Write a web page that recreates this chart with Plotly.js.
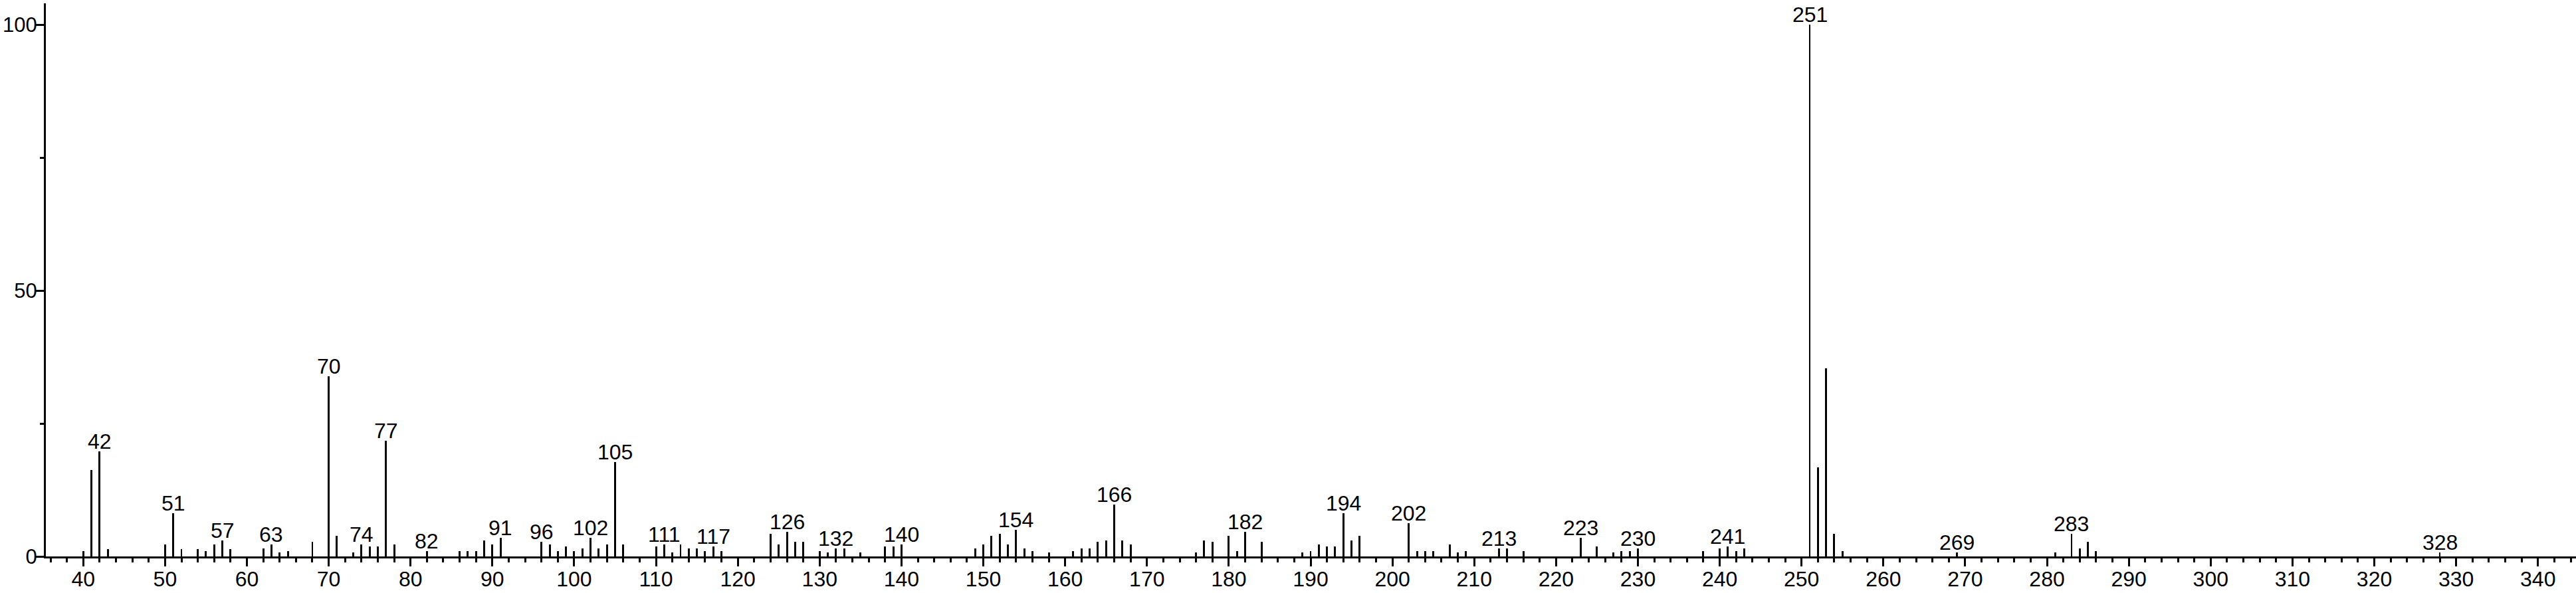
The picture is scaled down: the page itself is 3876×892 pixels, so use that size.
<!DOCTYPE html>
<html>
<head>
<meta charset="utf-8">
<script src="https://cdn.plot.ly/plotly-3.0.1.min.js"></script>
<style>
  html, body { margin: 0; padding: 0; background: #ffffff; }
  #chart { width: 3876px; height: 892px; }
</style>
</head>
<body>
<div id="chart"></div>
<script>
// m/z values of the peaks
const mz = [40,41,42,43,50,51,52,54,55,56,57,58,62,63,64,65,68,70,71,73,74,75,76,77,78,82,86,87,88,89,90,91,96,97,98,99,100,101,102,103,104,105,106,110,111,112,113,114,115,116,117,118,124,125,126,127,128,130,131,132,133,135,138,139,140,149,150,151,152,153,154,155,156,158,161,162,163,164,165,166,167,168,176,177,178,180,181,182,184,189,190,191,192,193,194,195,196,202,203,204,205,207,208,209,213,214,216,223,225,227,228,229,230,238,240,241,242,243,251,252,253,254,255,269,281,283,284,285,286,328];
// relative intensities (%)
const intensity = [1.0,16.3,19.8,1.4,2.2,8.1,1.4,1.4,1.0,2.3,3.0,1.4,1.5,2.3,0.8,1.0,2.7,33.9,3.9,0.7,2.3,1.9,1.9,21.8,2.3,1.0,1.0,1.0,1.0,3.0,2.3,3.5,2.7,2.3,1.0,1.9,1.0,1.5,3.5,1.5,2.3,17.8,2.3,1.9,2.3,0.7,2.3,1.5,1.5,1.0,1.9,1.0,4.3,2.3,4.6,2.7,2.7,1.0,0.7,1.5,1.5,0.7,1.9,1.9,2.3,1.5,2.3,3.9,4.2,2.3,5.0,1.5,1.0,0.7,1.0,1.5,1.5,2.7,3.0,9.7,3.0,2.3,0.7,3.0,2.7,3.9,1.0,4.6,2.7,0.7,1.0,2.3,1.9,1.9,8.1,3.0,3.9,6.25,1.0,1.0,1.0,2.3,0.7,1.0,1.5,1.5,1.0,3.5,1.9,0.7,1.0,1.0,1.5,1.0,1.5,1.9,1.0,1.5,100,16.7,35.4,4.2,1.0,0.7,0.7,4.2,1.5,2.7,1.0,0.7];
// peaks that carry an m/z label
const labelledPeaks = [42,51,57,63,70,74,77,82,91,96,102,105,111,117,126,132,140,154,166,182,194,202,213,223,230,241,251,269,283,328];
// axis tick values
const yTickVals = [0, 50, 100];
const xTickVals = [40,50,60,70,80,90,100,110,120,130,140,150,160,170,180,190,200,210,220,230,240,250,260,270,280,290,300,310,320,330,340];

const FONT = "Arial, 'Liberation Sans', sans-serif";

const trace = {
  type: 'bar',
  x: mz,
  y: intensity,
  width: 0.24,
  marker: { color: '#000000', line: { width: 0 } },
  hoverinfo: 'x+y'
};

const annotations = labelledPeaks.map(m => {
  const i = mz.indexOf(m);
  return {
    x: m,
    y: intensity[i],
    xref: 'x',
    yref: 'y',
    text: String(m),
    showarrow: false,
    xanchor: 'center',
    yanchor: 'bottom',
    yshift: -4,
    borderpad: 0,
    font: { family: FONT, size: 32, color: '#000000' }
  };
});

const layout = {
  width: 3876,
  height: 892,
  margin: { l: 69, r: 0, t: 5, b: 55 },
  paper_bgcolor: '#ffffff',
  plot_bgcolor: '#ffffff',
  showlegend: false,
  bargap: 0,
  font: { family: FONT, size: 32, color: '#000000' },
  xaxis: {
    range: [35.43, 344.65],
    tickmode: 'array',
    tickvals: xTickVals,
    ticktext: xTickVals.map(String),
    ticks: 'outside',
    ticklen: 12,
    tickwidth: 3,
    tickcolor: '#000000',
    ticklabelstandoff: -8,
    showline: true,
    linecolor: '#000000',
    linewidth: 3,
    showgrid: false,
    zeroline: false,
    tickfont: { family: FONT, size: 32, color: '#000000' },
    minor: { dtick: 2, tick0: 0, ticks: 'outside', ticklen: 6, tickwidth: 3, tickcolor: '#000000', showgrid: false }
  },
  yaxis: {
    range: [0, 104],
    tickmode: 'array',
    tickvals: yTickVals,
    ticktext: yTickVals.map(String),
    ticks: 'outside',
    ticklen: 12,
    tickwidth: 3,
    tickcolor: '#000000',
    ticklabelstandoff: -8,
    showline: true,
    linecolor: '#000000',
    linewidth: 3,
    showgrid: false,
    zeroline: false,
    tickfont: { family: FONT, size: 31, color: '#000000' },
    minor: { dtick: 25, tick0: 0, ticks: 'outside', ticklen: 6, tickwidth: 3, tickcolor: '#000000', showgrid: false }
  },
  annotations: annotations
};

Plotly.newPlot('chart', [trace], layout, { displayModeBar: false, staticPlot: true });
</script>
</body>
</html>
